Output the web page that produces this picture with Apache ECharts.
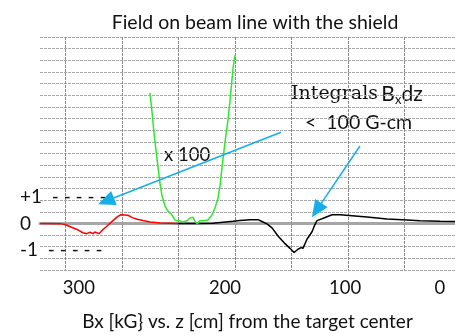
<!DOCTYPE html>
<html>
<head>
<meta charset="utf-8">
<script src="https://cdn.jsdelivr.net/npm/echarts@6/dist/echarts.min.js"></script>
<style>
  html, body { margin: 0; padding: 0; background: #fff; }
  #chart { width: 455px; height: 336px; }
</style>
</head>
<body>
<div id="chart"></div>
<script>
// z [cm] runs from ~322 (left) to ~-44 (right), values in kG (green is x100)
const redData = [
  [322.6, 0.00], [305.1, -0.01], [300.6, -0.05], [290.0, -0.26], [284.7, -0.40],
  [281.2, -0.44], [278.5, -0.38], [275.9, -0.44], [274.1, -0.37], [270.6, -0.44],
  [267.0, -0.26], [262.6, -0.08], [258.2, 0.12], [253.8, 0.30], [251.1, 0.37],
  [244.9, 0.35], [241.4, 0.26], [236.9, 0.18], [231.6, 0.12], [225.4, 0.06],
  [216.5, 0.02], [200.6, 0.00]
]
const blackData = [
  [200.6, 0.00], [185.0, 0.00], [169.7, 0.01], [151.9, 0.09], [145.8, 0.12],
  [136.9, 0.16], [129.8, 0.16], [125.4, 0.06], [121.9, -0.02], [117.4, -0.19],
  [112.1, -0.54], [105.9, -0.87], [101.5, -1.07], [97.9, -1.25], [94.4, -1.11],
  [91.8, -1.04], [90.0, -1.07], [86.5, -0.68], [82.0, -0.36], [79.4, -0.05],
  [77.6, 0.12], [73.2, 0.20], [64.3, 0.37], [57.2, 0.37], [33.4, 0.27],
  [15.7, 0.19], [-2.0, 0.15], [-13.5, 0.11], [-31.2, 0.09], [-44.5, 0.08]
]
const greenData = [
  [225.4, 5.60], [223.6, 4.80], [221.9, 3.91], [219.2, 2.77], [216.5, 1.71],
  [214.8, 1.20], [212.1, 0.74], [209.5, 0.53], [205.9, 0.36], [203.3, 0.15],
  [201.5, 0.11], [198.9, 0.11], [196.2, 0.06], [192.7, 0.11], [190.0, 0.23],
  [187.4, 0.27], [185.6, 0.11], [183.8, -0.02], [181.1, 0.11], [178.5, 0.11],
  [174.1, 0.15], [170.5, 0.36], [167.9, 0.66], [165.2, 1.08], [163.4, 1.63],
  [160.8, 2.77], [158.1, 3.83], [156.3, 4.46], [154.5, 5.30], [151.9, 6.66],
  [150.2, 7.21]
]

const xGridValues  = [0, 50, 100, 150, 200, 250, 300]
const xLabelValues = [288.3, 159.0, 52.8, -31.2]
const xLabelTexts  = ['300', '200', '100', '0']
const yLabelValues = [1.12, 0, -1.14]
const yLabelTexts  = ['+1  - - - - -', '0', '-1  - - - - -']

// arrow annotations: [from, to] in axis units
const arrows = [
  [[109.5, 3.91], [264.3, 0.96]],
  [[39.6, 3.32], [77.9, 0.57]]
]

const SANS = 'Lato, "Open Sans", sans-serif'

const chart = echarts.init(document.getElementById('chart'), null, { renderer: 'canvas' })

chart.setOption({
  animation: false,
  backgroundColor: '#fff',
  title: {
    text: 'Field on beam line with the shield',
    left: 250, top: 8, textAlign: 'center',
    textStyle: { fontFamily: SANS, fontSize: 19.5, fontWeight: 'normal', color: '#111' }
  },
  grid: { left: 40, right: 0, top: 37, bottom: 62.5 },
  xAxis: {
    type: 'value', inverse: true, min: -44.5, max: 322.7,
    name: 'Bx [kG} vs. z [cm] from the target center',
    nameLocation: 'middle', nameGap: 42,
    nameTextStyle: { fontFamily: SANS, fontSize: 19, color: '#111' },
    axisLine: { show: true, lineStyle: { color: '#a6a6a6', width: 3 } },
    axisTick: { show: true, customValues: xGridValues, length: 4, lineStyle: { color: '#999' } },
    axisLabel: {
      customValues: xLabelValues, margin: 9,
      fontFamily: SANS, fontSize: 18.5, color: '#111',
      formatter: v => xLabelTexts[xLabelValues.indexOf(v)]
    },
    splitLine: { show: true, lineStyle: { color: '#8a8a8a', type: [3, 1], width: 1 } }
  },
  yAxis: {
    type: 'value', min: -2, max: 8, interval: 0.5,
    axisLine: { show: false }, axisTick: { show: false },
    axisLabel: {
      customValues: yLabelValues, margin: 20, align: 'left', padding: [6, 0, 0, 0],
      fontFamily: SANS, fontSize: 19, color: '#111',
      formatter: v => yLabelTexts[yLabelValues.indexOf(v)]
    },
    splitLine: { show: true, lineStyle: { color: '#a8a8a8', type: [3, 1], width: 1 } }
  },
  graphic: [
    {
      type: 'text', left: 291, top: 84,
      style: {
        text: '{s|Integrals} {b|B}{x|x}{b|dz}',
        rich: {
          s: { fontFamily: '"DejaVu Serif", serif', fontSize: 19, fill: '#111' },
          b: { fontFamily: SANS, fontSize: 21, fill: '#111' },
          x: { fontFamily: SANS, fontSize: 13, fill: '#111', padding: [10, 0, 0, 0] }
        }
      }
    },
    {
      type: 'text', left: 305, top: 113,
      style: { text: '<  100 G-cm', fontFamily: SANS, fontSize: 19.5, fill: '#111' }
    },
    {
      type: 'text', left: 164, top: 146,
      style: { text: 'x 100', fontFamily: SANS, fontSize: 18.5, fill: '#111' }
    }
  ],
  series: [
    {
      type: 'line', data: redData, showSymbol: false,
      lineStyle: { color: '#ff0000', width: 1.5 }
    },
    {
      type: 'line', data: blackData, showSymbol: false,
      lineStyle: { color: '#000', width: 1.5 },
      markLine: {
        silent: true, symbol: ['none', 'triangle'], symbolSize: 16,
        label: { show: false },
        lineStyle: { color: '#16aee8', width: 1.5, type: 'solid' },
        data: arrows.map(a => [
          { coord: a[0], symbol: 'none' },
          { coord: a[1], symbol: 'triangle', symbolSize: [15, 17] }
        ])
      }
    },
    {
      type: 'line', data: greenData, showSymbol: false,
      lineStyle: { color: '#2ee82e', width: 1.5 }
    }
  ]
})
</script>
</body>
</html>
